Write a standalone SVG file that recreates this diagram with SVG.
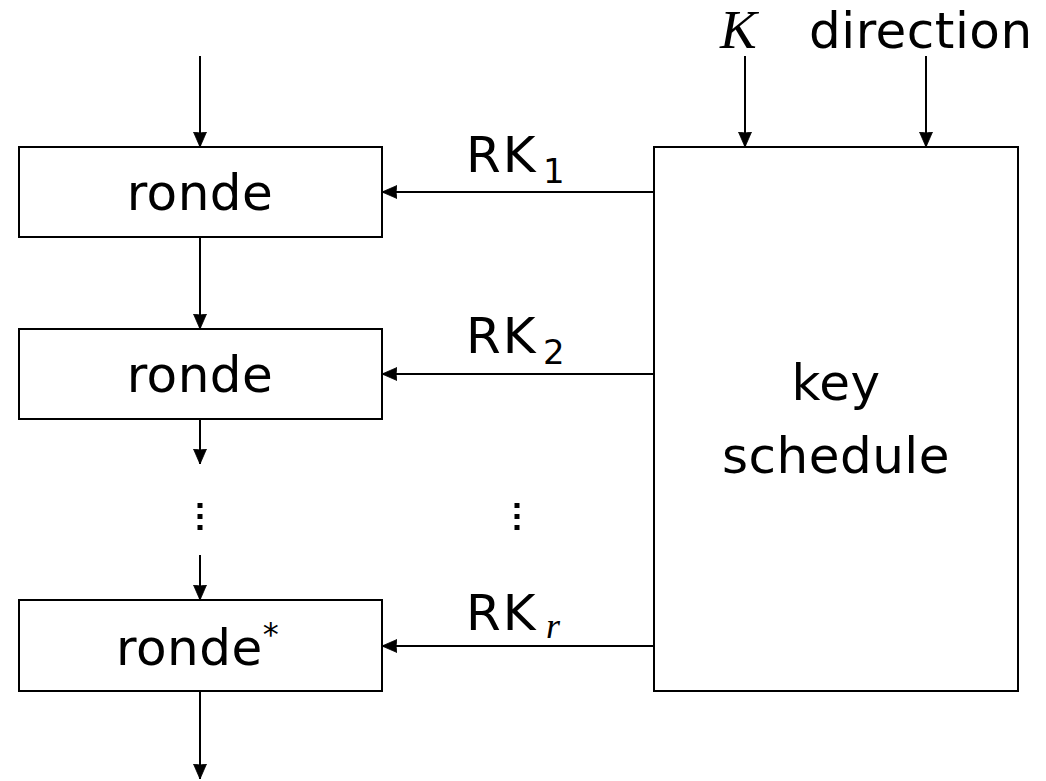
<svg xmlns="http://www.w3.org/2000/svg" width="1046" height="781" viewBox="0 0 1046 781">
<defs>
<style>
.box{fill:#fff;stroke:#000;stroke-width:2}
.ln{stroke:#000;stroke-width:2;fill:none}
.t{font-family:"DejaVu Sans",sans-serif;font-size:50px;letter-spacing:0.5px;fill:#000}
.rk{font-family:"DejaVu Sans",sans-serif;font-size:50px;letter-spacing:2px;fill:#000}
.sub{font-family:"DejaVu Sans",sans-serif;font-size:34px;fill:#000}
.it{font-family:"Liberation Serif",serif;font-style:italic;fill:#000}
.dot{fill:#000}
</style>
<marker id="ah" markerWidth="16" markerHeight="14" refX="15" refY="7" orient="auto" markerUnits="userSpaceOnUse" viewBox="0 0 16 14">
<path d="M0,0.5 L15,7 L0,13.5 L1,7 Z" fill="#000" stroke="#000" stroke-width="0.8"/>
</marker>
</defs>
<rect width="1046" height="781" fill="#fff"/>
<g id="connectors">
<line class="ln" x1="200" y1="56" x2="200" y2="147" marker-end="url(#ah)"/>
<line class="ln" x1="200" y1="237" x2="200" y2="329" marker-end="url(#ah)"/>
<line class="ln" x1="200" y1="419" x2="200" y2="464" marker-end="url(#ah)"/>
<line class="ln" x1="200" y1="555" x2="200" y2="600" marker-end="url(#ah)"/>
<line class="ln" x1="200" y1="691" x2="200" y2="779" marker-end="url(#ah)"/>
<line class="ln" x1="654" y1="192" x2="382" y2="192" marker-end="url(#ah)"/>
<line class="ln" x1="654" y1="374" x2="382" y2="374" marker-end="url(#ah)"/>
<line class="ln" x1="654" y1="646" x2="382" y2="646" marker-end="url(#ah)"/>
<line class="ln" x1="745" y1="56" x2="745" y2="147" marker-end="url(#ah)"/>
<line class="ln" x1="926" y1="56" x2="926" y2="147" marker-end="url(#ah)"/>
</g>
<g id="ronde1">
<rect class="box" x="19" y="147" width="363" height="90"/>
<text class="t" x="200" y="210" text-anchor="middle">ronde</text>
</g>
<g id="ronde2">
<rect class="box" x="19" y="329" width="363" height="90"/>
<text class="t" x="200" y="392" text-anchor="middle">ronde</text>
</g>
<g id="ronde3">
<rect class="box" x="19" y="600" width="363" height="91"/>
<text class="t" x="116" y="665">ronde<tspan font-size="32" dy="-20">*</tspan></text>
</g>
<g id="keyschedule">
<rect class="box" x="654" y="147" width="364" height="544"/>
<text class="t" x="836" y="400" text-anchor="middle">key</text>
<text class="t" x="836" y="473" text-anchor="middle">schedule</text>
</g>
<g id="labels">
<text class="rk" x="466" y="172">RK</text><text class="sub" x="543" y="183">1</text>
<text class="rk" x="466" y="353">RK</text><text class="sub" x="543" y="364">2</text>
<text class="rk" x="466" y="630">RK</text><text class="it" x="546" y="638" font-size="36">r</text>
<text class="it" x="720" y="48" font-size="55">K</text>
<text class="t" x="809" y="48">direction</text>
<rect class="dot" x="197.5" y="503" width="5" height="5"/>
<rect class="dot" x="197.5" y="514" width="5" height="5"/>
<rect class="dot" x="197.5" y="525" width="5" height="5"/>
<rect class="dot" x="514.5" y="503" width="5" height="5"/>
<rect class="dot" x="514.5" y="514" width="5" height="5"/>
<rect class="dot" x="514.5" y="525" width="5" height="5"/>
</g>
</svg>
